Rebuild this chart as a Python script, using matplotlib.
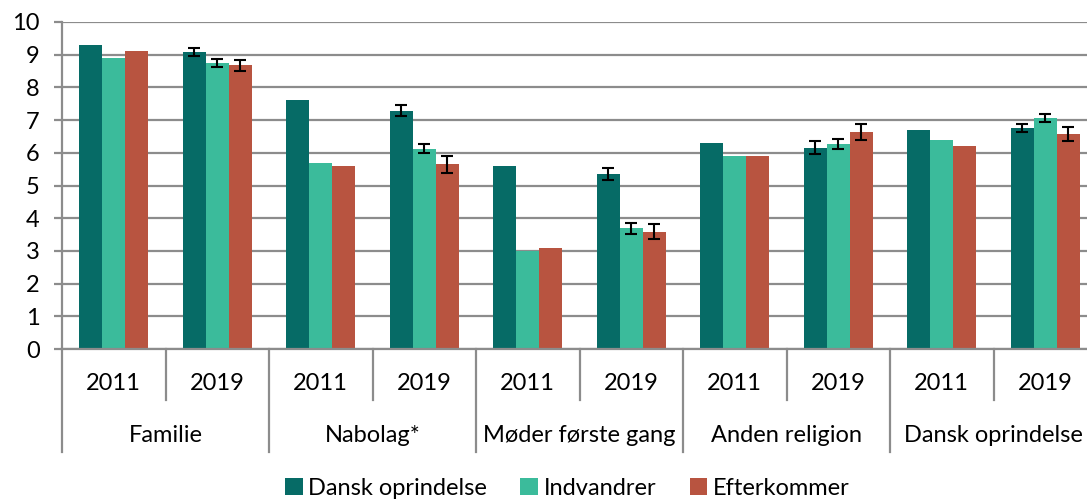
import matplotlib
matplotlib.use("Agg")
import matplotlib.pyplot as plt
import matplotlib.transforms as mtransforms
import numpy as np

plt.rcParams["font.family"] = ["Lato", "DejaVu Sans"]

categories = ["Familie", "Nabolag*", "Møder første gang", "Anden religion", "Dansk oprindelse"]
years = ["2011", "2019"]
series = ["Dansk oprindelse", "Indvandrer", "Efterkommer"]
colors = ["#066b66", "#3bbb9b", "#b85440"]

# values per (category, year) group, in order Familie 2011, Familie 2019, ...
dansk = [9.3, 9.08, 7.6, 7.29, 5.6, 5.35, 6.3, 6.16, 6.7, 6.76]
indvandrer = [8.9, 8.74, 5.7, 6.12, 3.0, 3.69, 5.9, 6.27, 6.4, 7.06]
efterkommer = [9.1, 8.67, 5.6, 5.65, 3.1, 3.59, 5.9, 6.63, 6.2, 6.57]

# 95% CI half widths, only 2019 has error bars
dansk_err = [np.nan, 0.12, np.nan, 0.16, np.nan, 0.18, np.nan, 0.19, np.nan, 0.13]
indvandrer_err = [np.nan, 0.12, np.nan, 0.14, np.nan, 0.16, np.nan, 0.16, np.nan, 0.12]
efterkommer_err = [np.nan, 0.17, np.nan, 0.26, np.nan, 0.24, np.nan, 0.24, np.nan, 0.22]

values = [dansk, indvandrer, efterkommer]
errors = [dansk_err, indvandrer_err, efterkommer_err]

fig = plt.figure(figsize=(10.87, 4.99), dpi=100)
ax = fig.add_axes([62 / 1087, 150 / 499, 1035 / 1087, 327 / 499])

n = len(dansk)
x = np.arange(n)
w = 0.222
grid_color = "#8c8c8c"
fs = 17

for i, (vals, errs, col, name) in enumerate(zip(values, errors, colors, series)):
    pos = x + (i - 1) * w
    ax.bar(pos, vals, width=w, color=col, edgecolor="none", label=name, zorder=2)
    errs = np.array(errs, dtype=float)
    mask = ~np.isnan(errs)
    ax.errorbar(pos[mask], np.array(vals)[mask], yerr=errs[mask], fmt="none",
                ecolor="black", elinewidth=1.5, capsize=4.5, capthick=1.5, zorder=3)

ax.set_xlim(-0.5, n - 0.5)
ax.set_ylim(0, 10)
ax.set_yticks(range(0, 11))
ax.yaxis.grid(True, color=grid_color, linewidth=1.6, zorder=0)
ax.set_axisbelow(True)
for side in ["top", "right"]:
    ax.spines[side].set_visible(False)
ax.spines["left"].set_color(grid_color)
ax.spines["left"].set_linewidth(1.6)
ax.spines["bottom"].set_color(grid_color)
ax.spines["bottom"].set_linewidth(1.6)
ax.tick_params(axis="y", length=6, width=1.6, color=grid_color, labelsize=fs, pad=10)
ax.set_xticks([])

# two-level category axis
trans = mtransforms.blended_transform_factory(ax.transData, ax.transAxes)
for i in range(n):
    ax.text(x[i], -0.104, years[i % 2], transform=trans, ha="center", va="center", fontsize=fs)
for j, cat in enumerate(categories):
    ax.text(2 * j + 0.5, -0.266, cat, transform=trans, ha="center", va="center", fontsize=fs)
for k in range(n + 1):
    b = k - 0.5
    depth = -0.315 if k % 2 == 0 else -0.156
    ax.plot([b, b], [0, depth], transform=trans, color=grid_color, linewidth=1.6, clip_on=False)

fig.legend(loc="center", bbox_to_anchor=(0.522, 0.022), ncol=3, frameon=False, fontsize=fs,
           handlelength=0.75, handleheight=0.75, handletextpad=0.25, columnspacing=1.4)

fig.savefig("out.png", dpi=100)
